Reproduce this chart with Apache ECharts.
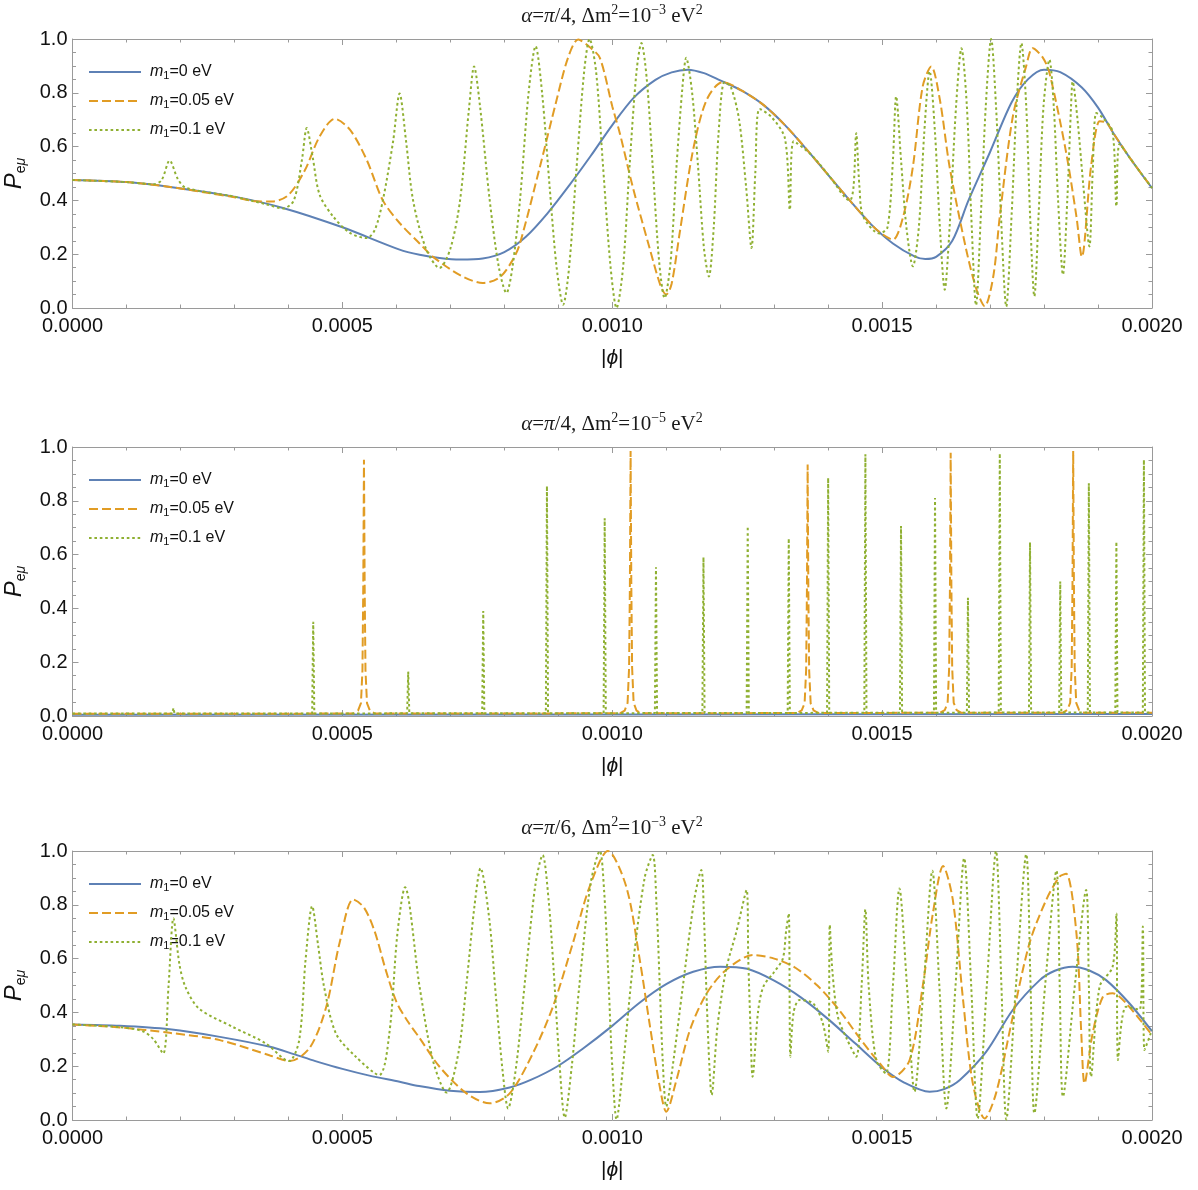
<!DOCTYPE html>
<html>
<head>
<meta charset="utf-8">
<script src="https://cdn.jsdelivr.net/npm/echarts@6/dist/echarts.min.js"></script>
<style>
  html, body { margin: 0; padding: 0; background: #ffffff; }
  #chart { width: 1198px; height: 1190px; }
</style>
</head>
<body>
<div id="chart"></div>
<script>
// Appearance probability P_eμ versus |ϕ| for three parameter sets.
// Each series is a list of [|ϕ|, P] pairs.

const xTickValues = [0, 0.0005, 0.001, 0.0015, 0.002];
const yTickValues = [0, 0.2, 0.4, 0.6, 0.8, 1.0];

const seriesNames = ['m1=0 eV', 'm1=0.05 eV', 'm1=0.1 eV'];
const legendTexts = ['=0 eV', '=0.05 eV', '=0.1 eV'];

// ---------- Panel 1: α=π/4, Δm²=1e-3 eV² ----------
const p1Blue = [
  [0, 0.476], [0.0001, 0.468], [0.000174, 0.452], [0.000297, 0.415], [0.00039, 0.372],
  [0.0005, 0.300], [0.000606, 0.217], [0.000643, 0.198], [0.00068, 0.186], [0.000718, 0.180],
  [0.00076, 0.184], [0.0008, 0.208], [0.00084, 0.265], [0.00088, 0.352], [0.00092, 0.455],
  [0.00096, 0.565], [0.001, 0.680], [0.00104, 0.782], [0.00108, 0.848], [0.00111, 0.876],
  [0.00114, 0.886], [0.00117, 0.873], [0.0012, 0.846], [0.00124, 0.808], [0.00128, 0.755],
  [0.00132, 0.680], [0.00136, 0.590], [0.0014, 0.495], [0.00144, 0.400], [0.00148, 0.310],
  [0.00152, 0.240], [0.00156, 0.192], [0.00158, 0.182], [0.0016, 0.190], [0.00163, 0.250],
  [0.00166, 0.400], [0.0017, 0.580], [0.00174, 0.765], [0.00177, 0.850], [0.0018, 0.886],
  [0.00183, 0.877], [0.00187, 0.820], [0.0019, 0.745], [0.00193, 0.645], [0.00196, 0.555],
  [0.002, 0.446]
];
const p1Orange = [
  [0, 0.476], [0.0001, 0.468], [0.000174, 0.452], [0.00025, 0.428], [0.0003, 0.412],
  [0.00034, 0.397], [0.00037, 0.396], [0.0004, 0.420], [0.00043, 0.510], [0.000458, 0.638],
  [0.000486, 0.703], [0.000514, 0.663], [0.000545, 0.551], [0.000575, 0.400], [0.000606, 0.316],
  [0.000643, 0.240], [0.000668, 0.190], [0.00072, 0.120], [0.00076, 0.093], [0.000792, 0.115],
  [0.000816, 0.180], [0.000829, 0.240], [0.000866, 0.525], [0.000897, 0.774], [0.000918, 0.930],
  [0.000937, 0.998], [0.000958, 0.970], [0.000977, 0.930], [0.001, 0.750], [0.001014, 0.650],
  [0.001038, 0.450], [0.00107, 0.217], [0.00109, 0.080], [0.0011, 0.050], [0.00111, 0.090],
  [0.001125, 0.280], [0.00115, 0.590], [0.001175, 0.774], [0.001205, 0.840], [0.00124, 0.808],
  [0.00128, 0.755], [0.00132, 0.680], [0.00136, 0.590], [0.0014, 0.495], [0.00144, 0.400],
  [0.00148, 0.310], [0.0015, 0.275], [0.00152, 0.254], [0.001539, 0.340], [0.001557, 0.525],
  [0.001575, 0.822], [0.001591, 0.898], [0.001607, 0.774], [0.001625, 0.525], [0.001656, 0.215],
  [0.001675, 0.068], [0.00169, 0.006], [0.001706, 0.118], [0.001718, 0.340], [0.001742, 0.710],
  [0.001767, 0.900], [0.001779, 0.966], [0.001798, 0.930], [0.00181, 0.874], [0.00184, 0.588],
  [0.00186, 0.340], [0.00187, 0.190], [0.001887, 0.525], [0.001903, 0.694], [0.001915, 0.690],
  [0.00193, 0.645], [0.00196, 0.555], [0.002, 0.446]
];
const p1Green = [
  [0, 0.476], [0.0001, 0.468], [0.00015, 0.460], [0.000165, 0.475], [0.00018, 0.548],
  [0.000195, 0.480], [0.00021, 0.447], [0.000297, 0.415], [0.00036, 0.385], [0.00039, 0.370],
  [0.00041, 0.400], [0.000425, 0.550], [0.000434, 0.669], [0.000445, 0.560], [0.000458, 0.420],
  [0.000483, 0.340], [0.000514, 0.279], [0.000545, 0.260], [0.00056, 0.290], [0.000575, 0.400],
  [0.000594, 0.620], [0.000606, 0.797], [0.000618, 0.620], [0.000631, 0.400], [0.000655, 0.220],
  [0.00068, 0.149], [0.0007, 0.220], [0.000718, 0.400], [0.000735, 0.750], [0.000744, 0.898],
  [0.000755, 0.750], [0.000773, 0.400], [0.00079, 0.150], [0.000804, 0.056], [0.000815, 0.150],
  [0.000829, 0.400], [0.000845, 0.800], [0.000858, 0.973], [0.00087, 0.800], [0.000884, 0.450],
  [0.000897, 0.150], [0.000909, 0.012], [0.00092, 0.150], [0.000934, 0.525], [0.000948, 0.880],
  [0.000958, 1.000], [0.00097, 0.880], [0.000983, 0.525], [0.000997, 0.150], [0.001008, 0.000],
  [0.00102, 0.150], [0.001032, 0.525], [0.001045, 0.880], [0.001054, 0.985], [0.001064, 0.850],
  [0.001075, 0.525], [0.001087, 0.170], [0.001097, 0.037], [0.001108, 0.170], [0.001119, 0.525],
  [0.00113, 0.820], [0.001137, 0.930], [0.001148, 0.800], [0.001159, 0.525], [0.00117, 0.220],
  [0.001179, 0.117], [0.001188, 0.300], [0.001197, 0.650], [0.001208, 0.840], [0.00122, 0.820],
  [0.001235, 0.700], [0.001248, 0.450], [0.001258, 0.223], [0.001265, 0.500], [0.001273, 0.740],
  [0.001295, 0.710], [0.00132, 0.630], [0.001329, 0.365], [0.001336, 0.620], [0.00137, 0.567],
  [0.001403, 0.488], [0.00144, 0.400], [0.001447, 0.450], [0.001452, 0.650], [0.001458, 0.450],
  [0.001465, 0.340], [0.001495, 0.277], [0.00151, 0.300], [0.00152, 0.550], [0.001526, 0.787],
  [0.001535, 0.550], [0.001545, 0.300], [0.001557, 0.155], [0.001568, 0.300], [0.001578, 0.650],
  [0.001588, 0.880], [0.001598, 0.650], [0.001607, 0.300], [0.001616, 0.068], [0.001625, 0.300],
  [0.001637, 0.750], [0.001647, 0.966], [0.001657, 0.750], [0.001665, 0.350], [0.001674, 0.010],
  [0.001683, 0.350], [0.001692, 0.750], [0.001702, 1.000], [0.001711, 0.750], [0.00172, 0.350],
  [0.00173, 0.005], [0.00174, 0.350], [0.001749, 0.750], [0.001758, 0.985], [0.001767, 0.750],
  [0.001774, 0.350], [0.001782, 0.043], [0.00179, 0.350], [0.001799, 0.750], [0.00181, 0.923],
  [0.001818, 0.750], [0.001826, 0.400], [0.001835, 0.124], [0.001843, 0.400], [0.00185, 0.750],
  [0.001853, 0.842], [0.001862, 0.700], [0.001873, 0.450], [0.001884, 0.229], [0.00189, 0.500],
  [0.001897, 0.725], [0.00191, 0.705], [0.001927, 0.655], [0.001934, 0.378], [0.00194, 0.610],
  [0.00196, 0.555], [0.002, 0.446]
];

// ---------- Panel 2: α=π/4, Δm²=1e-5 eV² ----------
const p2Blue = [[0, 0.005], [0.001, 0.006], [0.002, 0.007]];
const p2Orange = [
  [0, 0.008], [0.00052, 0.009], [0.000529, 0.020], [0.0005344, 0.048], [0.0005372, 0.170],
  [0.0005387, 0.480], [0.00054, 0.953], [0.0005413, 0.480], [0.0005428, 0.170], [0.0005456, 0.048],
  [0.000551, 0.020], [0.00056, 0.009],
  [0.001014, 0.010], [0.001023, 0.020], [0.0010284, 0.049], [0.0010312, 0.180], [0.0010327, 0.490],
  [0.001034, 0.985], [0.0010353, 0.490], [0.0010368, 0.180], [0.0010396, 0.049], [0.001045, 0.020],
  [0.001054, 0.010],
  [0.001342, 0.011], [0.001351, 0.021], [0.0013564, 0.047], [0.0013592, 0.170], [0.0013607, 0.470],
  [0.001362, 0.935], [0.0013633, 0.470], [0.0013648, 0.170], [0.0013676, 0.047], [0.001373, 0.021],
  [0.001382, 0.011],
  [0.001607, 0.012], [0.001616, 0.022], [0.0016214, 0.049], [0.0016242, 0.180], [0.0016257, 0.490],
  [0.001627, 0.979], [0.0016283, 0.490], [0.0016298, 0.180], [0.0016326, 0.049], [0.001638, 0.022],
  [0.001647, 0.012],
  [0.001834, 0.012], [0.001843, 0.022], [0.0018484, 0.049], [0.0018512, 0.180], [0.0018527, 0.490],
  [0.001854, 0.985], [0.0018553, 0.490], [0.0018568, 0.180], [0.0018596, 0.049], [0.001865, 0.022],
  [0.001874, 0.012], [0.002, 0.012]
];
const p2Green = [
  [0, 0.009],
  [0.000185, 0.009], [0.000187, 0.030], [0.000189, 0.009],
  [0.000444, 0.009], [0.000446, 0.350], [0.000448, 0.009],
  [0.00062, 0.010], [0.000622, 0.165], [0.000624, 0.010],
  [0.000759, 0.010], [0.000761, 0.390], [0.000763, 0.010],
  [0.000877, 0.010], [0.000879, 0.855], [0.000881, 0.010],
  [0.000984, 0.010], [0.000986, 0.735], [0.000988, 0.010],
  [0.001079, 0.011], [0.001081, 0.553], [0.001083, 0.011],
  [0.001167, 0.011], [0.001169, 0.590], [0.001171, 0.011],
  [0.001249, 0.011], [0.001251, 0.705], [0.001253, 0.011],
  [0.001325, 0.011], [0.001327, 0.660], [0.001329, 0.011],
  [0.001398, 0.012], [0.0014, 0.885], [0.001402, 0.012],
  [0.001467, 0.012], [0.001469, 0.973], [0.001471, 0.012],
  [0.001533, 0.012], [0.001535, 0.706], [0.001537, 0.012],
  [0.001596, 0.012], [0.001598, 0.810], [0.0016, 0.012],
  [0.001657, 0.012], [0.001659, 0.440], [0.001661, 0.012],
  [0.001716, 0.013], [0.001718, 0.976], [0.00172, 0.013],
  [0.001772, 0.013], [0.001774, 0.645], [0.001776, 0.013],
  [0.001828, 0.013], [0.00183, 0.500], [0.001832, 0.013],
  [0.001881, 0.013], [0.001883, 0.865], [0.001885, 0.013],
  [0.001932, 0.013], [0.001934, 0.648], [0.001936, 0.013],
  [0.001983, 0.013], [0.001985, 0.952], [0.001987, 0.013],
  [0.002, 0.013]
];

// ---------- Panel 3: α=π/6, Δm²=1e-3 eV² ----------
const p3Blue = [
  [0, 0.355], [0.000088, 0.350], [0.00018, 0.337], [0.000273, 0.309], [0.000366, 0.272],
  [0.00041, 0.245], [0.00045, 0.219], [0.0005, 0.190], [0.00055, 0.165], [0.000606, 0.142],
  [0.000642, 0.126], [0.000699, 0.109], [0.000755, 0.104], [0.00081, 0.121], [0.00085, 0.150],
  [0.000897, 0.198], [0.000946, 0.266], [0.001, 0.350], [0.00105, 0.435], [0.0011, 0.505],
  [0.00115, 0.551], [0.0012, 0.570], [0.00125, 0.562], [0.0013, 0.518], [0.00135, 0.455],
  [0.0014, 0.375], [0.00145, 0.285], [0.0015, 0.195], [0.00154, 0.140], [0.001588, 0.105],
  [0.001615, 0.115], [0.001644, 0.149], [0.001693, 0.254], [0.001742, 0.409], [0.001792, 0.520],
  [0.00182, 0.555], [0.001853, 0.570], [0.001885, 0.555], [0.001915, 0.520], [0.001958, 0.434],
  [0.002, 0.330]
];
const p3Orange = [
  [0, 0.355], [0.000088, 0.344], [0.00018, 0.324], [0.000273, 0.297], [0.000366, 0.240],
  [0.000403, 0.219], [0.00044, 0.270], [0.00047, 0.420], [0.000495, 0.660], [0.00052, 0.820],
  [0.00054, 0.790], [0.00056, 0.700], [0.00058, 0.560], [0.0006, 0.440], [0.00062, 0.370],
  [0.000643, 0.305], [0.00068, 0.198], [0.00073, 0.099], [0.000773, 0.062], [0.00081, 0.099],
  [0.000853, 0.248], [0.00089, 0.421], [0.000927, 0.657], [0.000958, 0.867], [0.000992, 1.000],
  [0.001026, 0.867], [0.001051, 0.595], [0.00107, 0.347], [0.001088, 0.124], [0.0011, 0.031],
  [0.001119, 0.149], [0.001144, 0.335], [0.001175, 0.471], [0.001211, 0.558], [0.001261, 0.613],
  [0.0013, 0.600], [0.00134, 0.565], [0.00138, 0.500], [0.00142, 0.410], [0.00146, 0.300],
  [0.0015, 0.200], [0.00152, 0.160], [0.001551, 0.223], [0.001576, 0.508], [0.001594, 0.768],
  [0.001613, 0.944], [0.001631, 0.818], [0.00165, 0.446], [0.001668, 0.136], [0.00169, 0.006],
  [0.001711, 0.099], [0.001742, 0.384], [0.001773, 0.657], [0.001804, 0.818], [0.001829, 0.905],
  [0.001841, 0.915], [0.00186, 0.694], [0.001869, 0.322], [0.001875, 0.136], [0.00189, 0.322],
  [0.001909, 0.458], [0.001927, 0.471], [0.001952, 0.434], [0.002, 0.316]
];
const p3Green = [
  [0, 0.355], [0.000088, 0.345], [0.00013, 0.330], [0.00015, 0.300], [0.000168, 0.247],
  [0.000178, 0.500], [0.000187, 0.750], [0.000198, 0.580], [0.000209, 0.496], [0.000234, 0.415],
  [0.000296, 0.347], [0.000358, 0.285], [0.000401, 0.219], [0.00042, 0.297], [0.000432, 0.600],
  [0.000444, 0.795], [0.000455, 0.650], [0.000466, 0.496], [0.000488, 0.322], [0.000525, 0.235],
  [0.000568, 0.167], [0.000587, 0.322], [0.000602, 0.694], [0.000616, 0.865], [0.000643, 0.496],
  [0.000668, 0.220], [0.000693, 0.102], [0.000715, 0.250], [0.00073, 0.508], [0.000745, 0.800],
  [0.000756, 0.936], [0.000772, 0.750], [0.000785, 0.446], [0.000797, 0.180], [0.000807, 0.043],
  [0.000822, 0.200], [0.000841, 0.570], [0.000858, 0.880], [0.000871, 0.985], [0.000882, 0.820],
  [0.000891, 0.570], [0.000902, 0.220], [0.000912, 0.009], [0.000925, 0.200], [0.000939, 0.500],
  [0.00096, 0.880], [0.000977, 1.000], [0.000985, 0.850], [0.000992, 0.570], [0.001, 0.200],
  [0.001008, 0.002], [0.00102, 0.200], [0.001038, 0.570], [0.00106, 0.900], [0.001075, 0.985],
  [0.001082, 0.800], [0.001088, 0.500], [0.001094, 0.200], [0.0011, 0.050], [0.001112, 0.200],
  [0.001131, 0.500], [0.001152, 0.820], [0.001165, 0.929], [0.00117, 0.750], [0.001175, 0.446],
  [0.00118, 0.200], [0.001184, 0.093], [0.001195, 0.350], [0.001211, 0.560], [0.00123, 0.700],
  [0.001249, 0.855], [0.001252, 0.600], [0.001256, 0.350], [0.00126, 0.161], [0.00127, 0.400],
  [0.00128, 0.496], [0.0013, 0.550], [0.001316, 0.600], [0.001322, 0.700], [0.001327, 0.768],
  [0.00133, 0.235], [0.001336, 0.400], [0.001347, 0.446], [0.001372, 0.434], [0.00139, 0.360],
  [0.0014, 0.254], [0.001403, 0.725], [0.001408, 0.550], [0.001418, 0.384], [0.001435, 0.300],
  [0.001452, 0.235], [0.001462, 0.500], [0.001469, 0.783], [0.001475, 0.500], [0.001489, 0.223],
  [0.001507, 0.173], [0.00152, 0.500], [0.001532, 0.861], [0.001546, 0.500], [0.00156, 0.105],
  [0.001577, 0.500], [0.001593, 0.927], [0.001606, 0.500], [0.001619, 0.043], [0.001636, 0.500],
  [0.001652, 0.973], [0.001665, 0.500], [0.001677, 0.006], [0.001694, 0.500], [0.001711, 1.000],
  [0.001721, 0.500], [0.00173, 0.002], [0.001748, 0.500], [0.001767, 0.988], [0.001775, 0.500],
  [0.001782, 0.025], [0.001802, 0.500], [0.001823, 0.927], [0.001829, 0.500], [0.001835, 0.087],
  [0.001857, 0.500], [0.001878, 0.855], [0.001883, 0.500], [0.001887, 0.161], [0.001903, 0.496],
  [0.001927, 0.570], [0.001934, 0.768], [0.001937, 0.223], [0.001952, 0.421], [0.001977, 0.410],
  [0.001983, 0.719], [0.001986, 0.260], [0.002, 0.335]
];

const panels = [
  { title: '{a|α}{r|=}{a|π}{r|/4, Δm}{sup|2}{r|=10}{sup|−3}{r| eV}{sup|2}', data: [p1Blue, p1Orange, p1Green], smooth: 0.3 },
  { title: '{a|α}{r|=}{a|π}{r|/4, Δm}{sup|2}{r|=10}{sup|−5}{r| eV}{sup|2}', data: [p2Blue, p2Orange, p2Green], smooth: false },
  { title: '{a|α}{r|=}{a|π}{r|/6, Δm}{sup|2}{r|=10}{sup|−3}{r| eV}{sup|2}', data: [p3Blue, p3Orange, p3Green], smooth: 0.3 }
];

const COLORS = ['#5e81b5', '#e19c24', '#8fb032'];
const DASHES = ['solid', [9, 4], [2.6, 2.8]];
const gridTops = [39, 447, 851];
const GRID_H = 269;
const GRID_LEFT = 72.5;
const GRID_RIGHT = 46;
const FRAME = '#9a9a9a';
const SANS = 'Liberation Sans, Arial, sans-serif';
const SERIF = 'Liberation Serif, Times New Roman, serif';

const titleRich = {
  r: { fontFamily: SERIF, fontSize: 21, fontWeight: 'normal', color: '#1a1a1a', lineHeight: 26 },
  a: { fontFamily: SERIF, fontSize: 21, fontWeight: 'normal', fontStyle: 'italic', color: '#1a1a1a', lineHeight: 26 },
  sup: { fontFamily: SERIF, fontSize: 14, fontWeight: 'normal', color: '#1a1a1a', lineHeight: 14, verticalAlign: 'top' }
};

const grids = [], xAxes = [], yAxes = [], series = [], titles = [], legends = [];

panels.forEach((p, i) => {
  grids.push({ left: GRID_LEFT, right: GRID_RIGHT, top: gridTops[i], height: GRID_H, outerBoundsMode: 'none', containLabel: false });

  titles.push({
    text: p.title, left: 612, top: gridTops[i] - 36, textAlign: 'center', padding: 0,
    textStyle: { fontWeight: 'normal', fontFamily: SERIF, fontSize: 21, rich: titleRich }
  });

  // bottom axis with labels, top axis as plain frame edge
  xAxes.push({
    type: 'value', gridIndex: i, min: 0, max: 0.002, interval: 0.0005, position: 'bottom',
    name: '{b||}{i|ϕ}{b||}', nameLocation: 'middle', nameGap: 40,
    nameTextStyle: { rich: {
      b: { fontFamily: SANS, fontSize: 21, color: '#111' },
      i: { fontFamily: SANS, fontSize: 21, fontStyle: 'italic', color: '#111' }
    } },
    axisLine: { show: true, onZero: false, lineStyle: { color: FRAME, width: 1 } },
    axisTick: { show: true, inside: true, length: 6, lineStyle: { color: FRAME } },
    minorTick: { show: true, splitNumber: 5, length: 3.5, lineStyle: { color: FRAME } },
    splitLine: { show: false },
    axisLabel: { show: true, margin: 8, fontFamily: SANS, fontSize: 20, color: '#111',
      formatter: v => v.toFixed(4) }
  });
  xAxes.push({
    type: 'value', gridIndex: i, min: 0, max: 0.002, interval: 0.0005, position: 'top',
    axisLine: { show: true, onZero: false, lineStyle: { color: FRAME, width: 1 } },
    axisTick: { show: true, inside: true, length: 6, lineStyle: { color: FRAME } },
    minorTick: { show: true, splitNumber: 5, length: 3.5, lineStyle: { color: FRAME } },
    splitLine: { show: false }, axisLabel: { show: false }
  });

  yAxes.push({
    type: 'value', gridIndex: i, min: 0, max: 1, interval: 0.2, position: 'left',
    name: '{p|P}{s|e}{si|μ}', nameLocation: 'middle', nameGap: 44, nameRotate: 90,
    nameTextStyle: { rich: {
      p: { fontFamily: SANS, fontSize: 24, fontStyle: 'italic', color: '#111', lineHeight: 28 },
      s: { fontFamily: SANS, fontSize: 14, color: '#111', lineHeight: 15, verticalAlign: 'bottom' },
      si: { fontFamily: SANS, fontSize: 14, fontStyle: 'italic', color: '#111', lineHeight: 15, verticalAlign: 'bottom' }
    } },
    axisLine: { show: true, onZero: false, lineStyle: { color: FRAME, width: 1 } },
    axisTick: { show: true, inside: true, length: 6, lineStyle: { color: FRAME } },
    minorTick: { show: true, splitNumber: 4, length: 3.5, lineStyle: { color: FRAME } },
    splitLine: { show: false },
    axisLabel: { show: true, margin: 5, fontFamily: SANS, fontSize: 20, color: '#111',
      formatter: v => v.toFixed(1) }
  });
  yAxes.push({
    type: 'value', gridIndex: i, min: 0, max: 1, interval: 0.2, position: 'right',
    axisLine: { show: true, onZero: false, lineStyle: { color: FRAME, width: 1 } },
    axisTick: { show: true, inside: true, length: 6, lineStyle: { color: FRAME } },
    minorTick: { show: true, splitNumber: 4, length: 3.5, lineStyle: { color: FRAME } },
    splitLine: { show: false }, axisLabel: { show: false }
  });

  p.data.forEach((d, k) => {
    series.push({
      type: 'line', name: seriesNames[k], xAxisIndex: i * 2, yAxisIndex: i * 2,
      data: d, showSymbol: false, symbol: 'none', smooth: p.smooth, clip: true,
      lineStyle: { color: COLORS[k], width: 2, type: DASHES[k], cap: 'butt' },
      itemStyle: { color: COLORS[k] },
      z: 2 + k, animation: false, silent: true
    });
  });

  legends.push({
    orient: 'vertical', left: 88, top: gridTops[i] + 25, padding: 0,
    itemWidth: 52, itemHeight: 14, itemGap: 12,
    data: seriesNames, selectedMode: false,
    itemStyle: { color: 'rgba(0,0,0,0)', borderWidth: 0, opacity: 0 },
    formatter: name => '{m|m}{s|1}{t|' + legendTexts[seriesNames.indexOf(name)] + '}',
    textStyle: { rich: {
      m: { fontFamily: SANS, fontSize: 16, fontStyle: 'italic', color: '#111', lineHeight: 18, padding: [0, 0, 0, 4] },
      s: { fontFamily: SANS, fontSize: 11, color: '#111', lineHeight: 11, verticalAlign: 'bottom' },
      t: { fontFamily: SANS, fontSize: 16, color: '#111', lineHeight: 18 }
    } }
  });
});

const chart = echarts.init(document.getElementById('chart'), null, { renderer: 'canvas' });
chart.setOption({
  backgroundColor: '#ffffff',
  animation: false,
  title: titles,
  legend: legends,
  grid: grids,
  xAxis: xAxes,
  yAxis: yAxes,
  series: series
});
</script>
</body>
</html>
